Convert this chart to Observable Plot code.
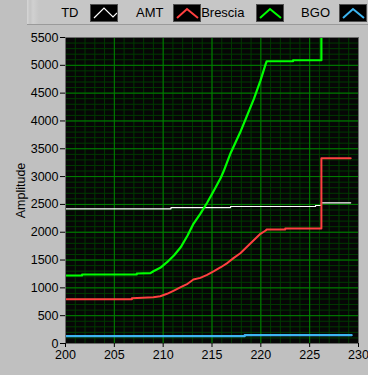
<!DOCTYPE html>
<html>
<head>
<meta charset="utf-8">
<script src="https://cdn.jsdelivr.net/npm/d3@7"></script>
<script src="https://cdn.jsdelivr.net/npm/@observablehq/plot@0.6"></script>
<style>
  html, body { margin: 0; padding: 0; background: #c0c0c0; }
  body { width: 368px; height: 375px; overflow: hidden; font-family: "Liberation Sans", Arial, sans-serif; }
  #legend { position: relative; width: 368px; height: 27px; }
  #panel { position: absolute; left: 27px; top: 0; width: 341px; height: 24px;
           background: linear-gradient(to right, #d6d6d6 0px, #c4c4c4 3px, #d0d0d0 6px, #c6c6c6 12px, #c6c6c6 100%);
           border-bottom: 1px solid #9a9a9a; }
  .lab { position: absolute; top: 5px; font-size: 13px; color: #000; text-align: right; line-height: 15px; }
  .box { position: absolute; top: 4px; width: 28px; height: 18px; background: #000; box-sizing: border-box; border: 1px solid #505050; }
  .box svg { display: block; }
  #chart { position: absolute; left: 0; top: 27px; }
</style>
</head>
<body>
<div id="legend"><div id="panel"></div></div>
<div id="chart"></div>
<script>
// ---- data ----
const seriesNames = ["TD", "AMT", "Brescia", "BGO"];
const seriesColors = ["#ffffff", "#ff4040", "#00ff00", "#3cb4f0"];

const tdX = [200, 210.8, 210.8, 216.9, 216.9, 225.6, 225.6, 226.2, 226.2, 229.2];
const tdY = [2421, 2421, 2444, 2444, 2462, 2462, 2480, 2480, 2528, 2528];

const amtX = [200, 206.8, 206.8, 209.0, 209.7, 210.4, 211.1, 211.8, 212.5, 213.1, 213.8, 214.5, 215.2, 215.9, 216.6, 217.2, 217.9, 218.9, 219.96, 220.5, 220.6, 222.5, 222.5, 226.2, 226.2, 229.2];
const amtY = [796, 796, 814, 832, 850, 893, 952, 1012, 1073, 1150, 1180, 1234, 1300, 1371, 1450, 1535, 1623, 1792, 1971, 2031, 2049, 2049, 2067, 2067, 3330, 3330];

const brX = [200, 201.7, 201.7, 207.3, 207.3, 208.7, 209.0, 209.7, 210.4, 211.1, 211.8, 212.5, 213.1, 213.8, 214.5, 215.2, 215.9, 216.2, 216.9, 217.9, 218.6, 219.3, 219.96, 220.5, 220.6, 223.3, 223.3, 226.2, 226.2];
const brY = [1222, 1222, 1240, 1240, 1258, 1265, 1299, 1360, 1461, 1581, 1731, 1941, 2151, 2331, 2530, 2750, 2980, 3100, 3420, 3800, 4100, 4400, 4726, 5026, 5073, 5073, 5091, 5091, 7000];

const bgoX = [200, 218.35, 218.35, 229.3];
const bgoY = [131, 131, 149, 149];

const xTicks = [200, 205, 210, 215, 220, 225, 230];
const yTicks = [0, 500, 1000, 1500, 2000, 2500, 3000, 3500, 4000, 4500, 5000, 5500];
const yLabel = "Amplitude";

// ---- build tables ----
function pts(xs, ys, name) { return xs.map((x, i) => ({x, y: ys[i], name})); }
const series = [
  pts(tdX, tdY, "TD"),
  pts(amtX, amtY, "AMT"),
  pts(brX, brY, "Brescia"),
  pts(bgoX, bgoY, "BGO")
];
const widths = {TD: 1.2, AMT: 2, Brescia: 2.2, BGO: 2.2};

// ---- legend (HTML above the SVG) ----
const legend = document.getElementById("legend");
const labRight = [78.5, 163.5, 244.5, 330];
const boxLeft = [90, 173, 256, 339];
seriesNames.forEach((n, i) => {
  const l = document.createElement("div");
  l.className = "lab";
  l.textContent = n;
  l.style.right = (368 - labRight[i]) + "px";
  legend.appendChild(l);
  const b = document.createElement("div");
  b.className = "box";
  b.style.left = boxLeft[i] + "px";
  const pathD = i === 0 ? "M3,13 L13,3 L22,12 L26,8" : "M3,13 L13,4 L24,13";
  b.innerHTML = `<svg width="26" height="16"><path d="${pathD}" fill="none" stroke="${seriesColors[i]}" stroke-width="${i===0?1.2:2}"/></svg>`;
  legend.appendChild(b);
});

// ---- chart ----
const fontFamily = '"Liberation Sans", Arial, sans-serif';
const chart = Plot.plot({
  width: 368,
  height: 348,
  marginTop: 10,
  marginBottom: 32,
  marginLeft: 65,
  marginRight: 10,
  style: {background: "transparent", fontFamily, fontSize: "12.5px", color: "#000"},
  x: {domain: [200, 230]},
  y: {domain: [0, 5500]},
  marks: [
    Plot.frame({fill: "#060606"}),
    Plot.gridX({ticks: d3.range(200, 231, 1), stroke: "#003a00", strokeOpacity: 1, strokeWidth: 1}),
    Plot.gridY({ticks: d3.range(0, 5501, 100), stroke: "#003a00", strokeOpacity: 1, strokeWidth: 1}),
    Plot.gridX({ticks: xTicks, stroke: "#008000", strokeOpacity: 1, strokeWidth: 1}),
    Plot.gridY({ticks: yTicks, stroke: "#008000", strokeOpacity: 1, strokeWidth: 1}),
    ...series.map((s, i) => Plot.line(s, {
      x: "x", y: "y", stroke: seriesColors[i], strokeWidth: widths[seriesNames[i]], clip: true, curve: "linear"
    })),
    Plot.frame({stroke: "#6a6a6a", strokeWidth: 1}),
    Plot.axisX({ticks: xTicks, tickSize: 4, tickPadding: 3, tickFormat: d => String(d), label: null, stroke: "#000", fill: "#000"}),
    Plot.axisY({ticks: yTicks, tickSize: 5, tickPadding: 2, tickFormat: d => String(d), label: yLabel,
      labelAnchor: "center", labelArrow: "none", labelOffset: 49, stroke: "#000", fill: "#000"})
  ]
});
document.getElementById("chart").appendChild(chart);
</script>
</body>
</html>
